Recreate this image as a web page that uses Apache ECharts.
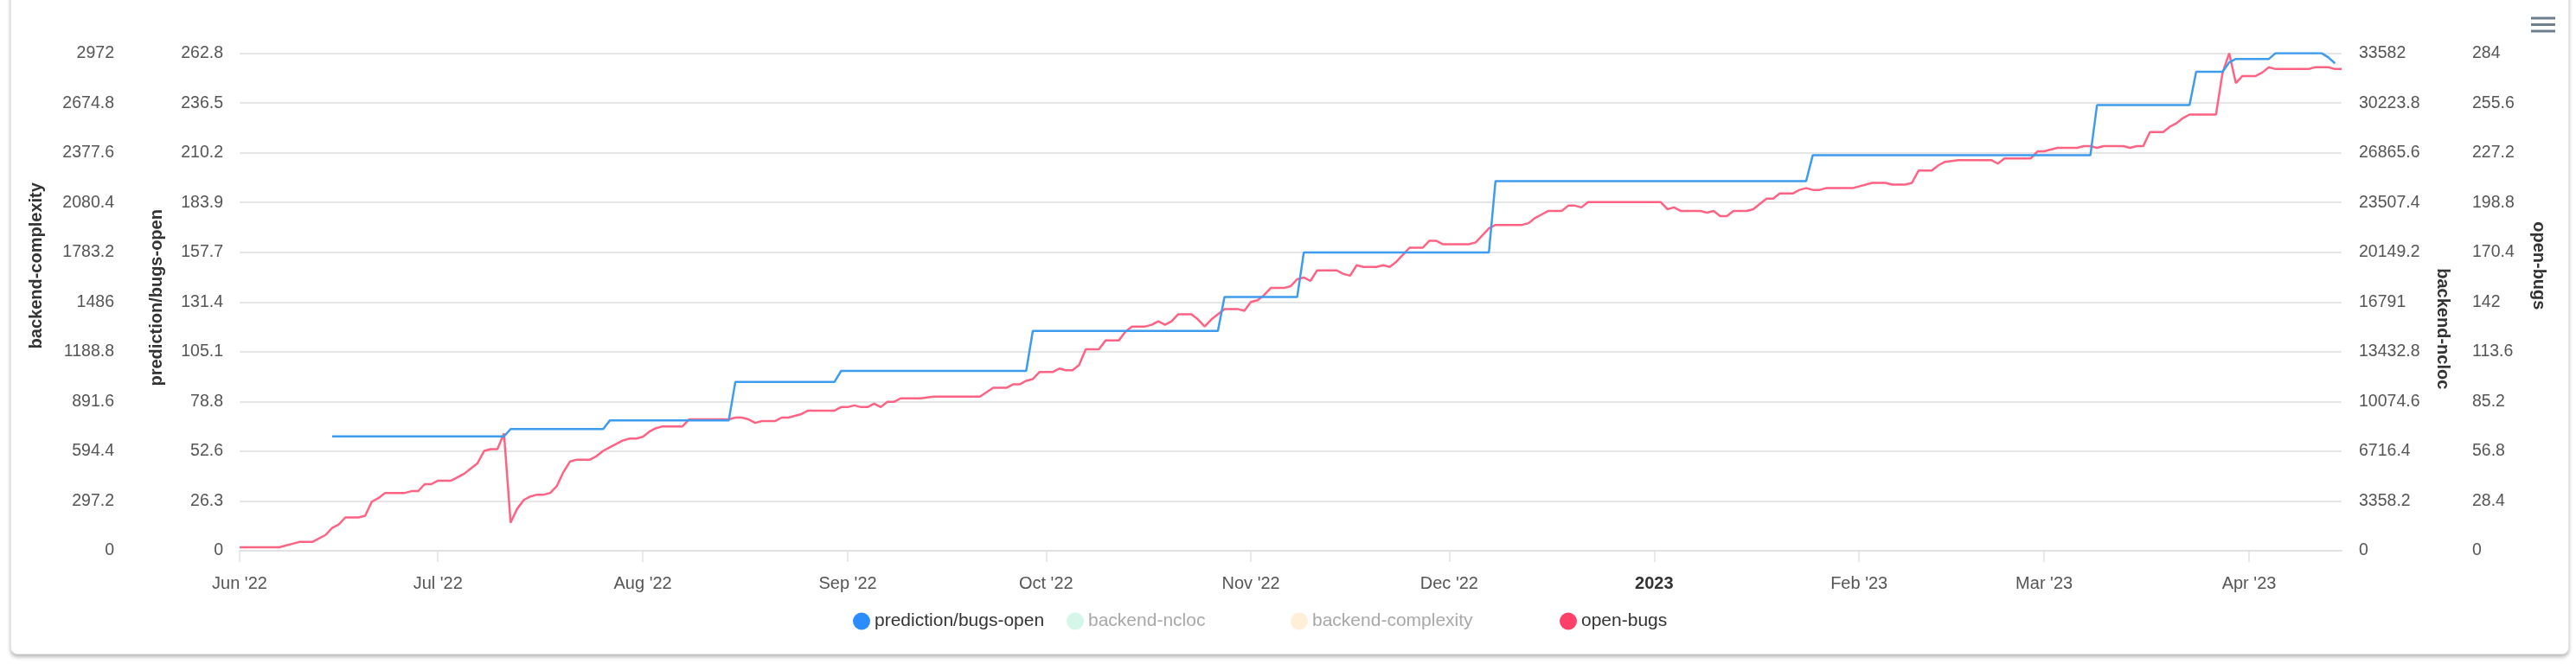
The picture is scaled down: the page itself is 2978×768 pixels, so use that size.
<!DOCTYPE html>
<html>
<head>
<meta charset="utf-8">
<script src="https://cdn.jsdelivr.net/npm/echarts@6/dist/echarts.min.js"></script>
<style>
html, body { margin: 0; padding: 0; background: #fff; overflow: hidden; }
.card {
  position: absolute; left: 12px; top: -20px; width: 2956px; height: 775px;
  border: 1px solid #e4e4e4; border-radius: 8px;
  box-shadow: 0 3px 4px rgba(0, 0, 0, 0.28); background: #fff;
}
#chart { position: absolute; left: 0; top: 0; width: 2978px; height: 768px; }
</style>
</head>
<body>
<div class="card"></div>
<div id="chart"></div>
<script>
// day offsets are counted from 1 Jun 2022
const startDay = [2022, 5, 1];
const lastDay = 318; // 15 Apr 2023

const monthNames = ['Jan', 'Feb', 'Mar', 'Apr', 'May', 'Jun', 'Jul', 'Aug', 'Sep', 'Oct', 'Nov', 'Dec'];

// tick labels of the four y axes (bottom to top)
const complexityTicks = ['0', '297.2', '594.4', '891.6', '1188.8', '1486', '1783.2', '2080.4', '2377.6', '2674.8', '2972'];
const predictionTicks = ['0', '26.3', '52.6', '78.8', '105.1', '131.4', '157.7', '183.9', '210.2', '236.5', '262.8'];
const nclocTicks = ['0', '3358.2', '6716.4', '10074.6', '13432.8', '16791', '20149.2', '23507.4', '26865.6', '30223.8', '33582'];
const openBugsTicks = ['0', '28.4', '56.8', '85.2', '113.6', '142', '170.4', '198.8', '227.2', '255.6', '284'];

// [day, value]
const predictionBugsOpen = [
  [14, 60.4], [40, 60.4], [41, 64.3], [55, 64.3], [56, 68.8], [74, 68.8], [75, 89.2], [90, 89.2],
  [91, 95], [119, 95], [120, 116.1], [148, 116.1], [149, 134.1], [160, 134.1], [161, 157.6], [189, 157.6],
  [190, 195.3], [237, 195.3], [238, 209], [280, 209], [281, 235.4], [295, 235.4], [296, 253], [300, 253],
  [301, 258], [302, 259.8], [307, 259.8], [308, 262.8], [315, 262.8], [316, 260.6], [317, 257.5]
];

const openBugs = [
  [0, 2], [6, 2], [9, 5], [11, 5], [13, 9], [14, 13], [15, 15], [16, 19], [18, 19], [19, 20], [20, 28],
  [21, 30], [22, 33], [23, 33], [25, 33], [26, 34], [27, 34], [28, 38], [29, 38], [30, 40], [32, 40],
  [33, 42], [34, 44], [35, 47], [36, 50], [37, 57], [38, 58], [39, 58], [40, 67], [41, 16], [42, 24],
  [43, 29], [44, 31], [45, 32], [46, 32], [47, 33], [48, 37], [49, 45], [50, 51], [51, 52], [53, 52],
  [54, 54], [55, 57], [56, 59], [57, 61], [58, 63], [59, 64], [60, 64], [61, 65], [62, 68], [63, 70],
  [64, 71], [67, 71], [68, 75], [74, 75], [75, 76], [76, 76], [77, 75], [78, 73], [79, 74], [81, 74],
  [82, 76], [83, 76], [85, 78], [86, 80], [90, 80], [91, 82], [92, 82], [93, 83], [94, 82], [95, 82],
  [96, 84], [97, 82], [98, 85], [99, 85], [100, 87], [103, 87], [105, 88], [112, 88], [114, 93], [116, 93],
  [117, 95], [118, 95], [119, 97], [120, 98], [121, 102], [123, 102], [124, 104], [125, 103], [126, 103],
  [127, 106], [128, 115], [130, 115], [131, 120], [133, 120], [134, 125], [135, 128], [137, 128],
  [138, 129], [139, 131], [140, 129], [141, 131], [142, 135], [144, 135], [145, 132], [146, 128],
  [147, 132], [148, 135], [149, 138], [151, 138], [152, 137], [153, 142], [154, 143], [155, 146],
  [156, 150], [158, 150], [159, 151], [160, 155], [161, 156], [162, 154], [163, 160], [166, 160],
  [167, 158], [168, 157], [169, 163], [170, 162], [172, 162], [173, 163], [174, 162], [175, 165],
  [176, 169], [177, 173], [179, 173], [180, 177], [181, 177], [182, 175], [183, 175], [186, 175],
  [187, 176], [188, 180], [189, 184], [190, 186], [194, 186], [195, 187], [196, 190], [197, 192],
  [198, 194], [200, 194], [201, 197], [202, 197], [203, 196], [204, 199], [215, 199], [216, 195],
  [217, 196], [218, 194], [221, 194], [222, 193], [223, 194], [224, 191], [225, 191], [226, 194],
  [228, 194], [229, 195], [230, 198], [231, 201], [232, 201], [233, 204], [235, 204], [236, 206],
  [237, 207], [238, 206], [239, 206], [240, 207], [244, 207], [247, 210], [249, 210], [250, 209],
  [252, 209], [253, 210], [254, 217], [256, 217], [257, 220], [258, 222], [260, 223], [265, 223],
  [266, 221], [267, 224], [271, 224], [272, 228], [273, 228], [274, 229], [275, 230], [278, 230],
  [279, 231], [280, 231], [281, 230], [282, 231], [285, 231], [286, 230], [287, 231], [288, 231],
  [289, 239], [291, 239], [292, 242], [293, 244], [294, 247], [295, 249], [296, 249], [299, 249],
  [300, 273], [301, 284], [302, 267], [303, 271], [305, 271], [306, 273], [307, 276], [308, 275],
  [313, 275], [314, 276], [316, 276], [317, 275], [318, 275]
];

const toTime = (d) => new Date(startDay[0], startDay[1], startDay[2] + d).getTime();
const toPoints = (list) => list.map((p) => [toTime(p[0]), p[1]]);

const font = 'Liberation Sans, Arial, sans-serif';
const DAY = 86400000;

const yAxisFor = (name, ticks, position, offset, nameGap, namePad, nameRotate, margin, showSplit) => {
  const max = Number(ticks[ticks.length - 1]);
  const step = max / (ticks.length - 1);
  return {
    type: 'value',
    name: name,
    position: position,
    offset: offset,
    min: 0,
    max: max,
    interval: step,
    nameLocation: 'middle',
    nameGap: nameGap,
    nameRotate: nameRotate,
    nameTextStyle: { fontFamily: font, fontSize: 20, fontWeight: 'bold', color: '#333', padding: namePad },
    axisLine: { show: false },
    axisTick: { show: false },
    splitLine: { show: showSplit, lineStyle: { color: '#e6e6e6', width: 2 } },
    axisLabel: {
      margin: margin,
      fontFamily: font,
      fontSize: 19.5,
      color: '#555',
      formatter: (v) => ticks[Math.round(v / step)]
    }
  };
};

// one legend per entry so the hidden ones can keep their wide slot
const legendFor = (left, item) => ({
  left: left,
  top: 703,
  icon: 'circle',
  itemWidth: 20,
  itemHeight: 20,
  textStyle: { fontFamily: font, fontSize: 21, color: '#333' },
  data: [item]
});

var myChart = echarts.init(document.getElementById('chart'));
var option = {
  animation: false,
  grid: { left: 277, right: 271, top: 61.6, bottom: 131 },
  legend: [
    legendFor(981, { name: 'prediction/bugs-open' }),
    legendFor(1228, { name: 'backend-ncloc', itemStyle: { color: '#d4f7ea' }, textStyle: { color: '#a8a8a8' } }),
    legendFor(1487, { name: 'backend-complexity', itemStyle: { color: '#ffefd9' }, textStyle: { color: '#a8a8a8' } }),
    legendFor(1798, { name: 'open-bugs' })
  ],
  graphic: [
    { type: 'rect', shape: { x: 2926, y: 19.5, width: 28, height: 3 }, style: { fill: '#6f7e8c' } },
    { type: 'rect', shape: { x: 2926, y: 27, width: 28, height: 3 }, style: { fill: '#6f7e8c' } },
    { type: 'rect', shape: { x: 2926, y: 34.5, width: 28, height: 3 }, style: { fill: '#6f7e8c' } }
  ],
  xAxis: {
    type: 'time',
    min: toTime(0),
    max: toTime(lastDay),
    splitNumber: 10,
    minInterval: 28 * DAY,
    maxInterval: 31 * DAY,
    axisLine: { lineStyle: { color: '#e2e2e2', width: 2 } },
    axisTick: { show: true, length: 13, lineStyle: { color: '#e2e2e2', width: 1.5 } },
    splitLine: { show: false },
    axisLabel: {
      margin: 28,
      fontFamily: font,
      fontSize: 20,
      color: '#555',
      showMaxLabel: false,
      formatter: (value) => {
        const d = new Date(value);
        if (d.getMonth() === 0) return '{y|' + d.getFullYear() + '}';
        return monthNames[d.getMonth()] + " '" + String(d.getFullYear()).slice(2);
      },
      rich: { y: { fontFamily: font, fontSize: 20, fontWeight: 'bold', color: '#333' } }
    }
  },
  yAxis: [
    yAxisFor('prediction/bugs-open', predictionTicks, 'left', 0, 86, [0, 0, 0, 10], 90, 19, true),
    yAxisFor('backend-complexity', complexityTicks, 'left', 126, 99, [0, 0, 0, 84], 90, 19, false),
    yAxisFor('backend-ncloc', nclocTicks, 'right', 0, 107, [0, 0, 0, 62], -90, 20, false),
    yAxisFor('open-bugs', openBugsTicks, 'right', 131, 87, [0, 84, 0, 0], -90, 20, false)
  ],
  series: [
    {
      name: 'prediction/bugs-open',
      type: 'line',
      yAxisIndex: 0,
      data: toPoints(predictionBugsOpen),
      showSymbol: false,
      z: 3,
      lineStyle: { color: '#3d9cee', width: 2.5 },
      itemStyle: { color: '#2b8cfb' }
    },
    {
      name: 'backend-ncloc',
      type: 'line',
      yAxisIndex: 2,
      data: [],
      itemStyle: { color: '#d4f7ea' }
    },
    {
      name: 'backend-complexity',
      type: 'line',
      yAxisIndex: 1,
      data: [],
      itemStyle: { color: '#ffefd9' }
    },
    {
      name: 'open-bugs',
      type: 'line',
      yAxisIndex: 3,
      data: toPoints(openBugs),
      showSymbol: false,
      z: 2,
      lineStyle: { color: '#ff6384', width: 2.5 },
      itemStyle: { color: '#ff4068' }
    }
  ]
};
option && myChart.setOption(option);
</script>
</body>
</html>
